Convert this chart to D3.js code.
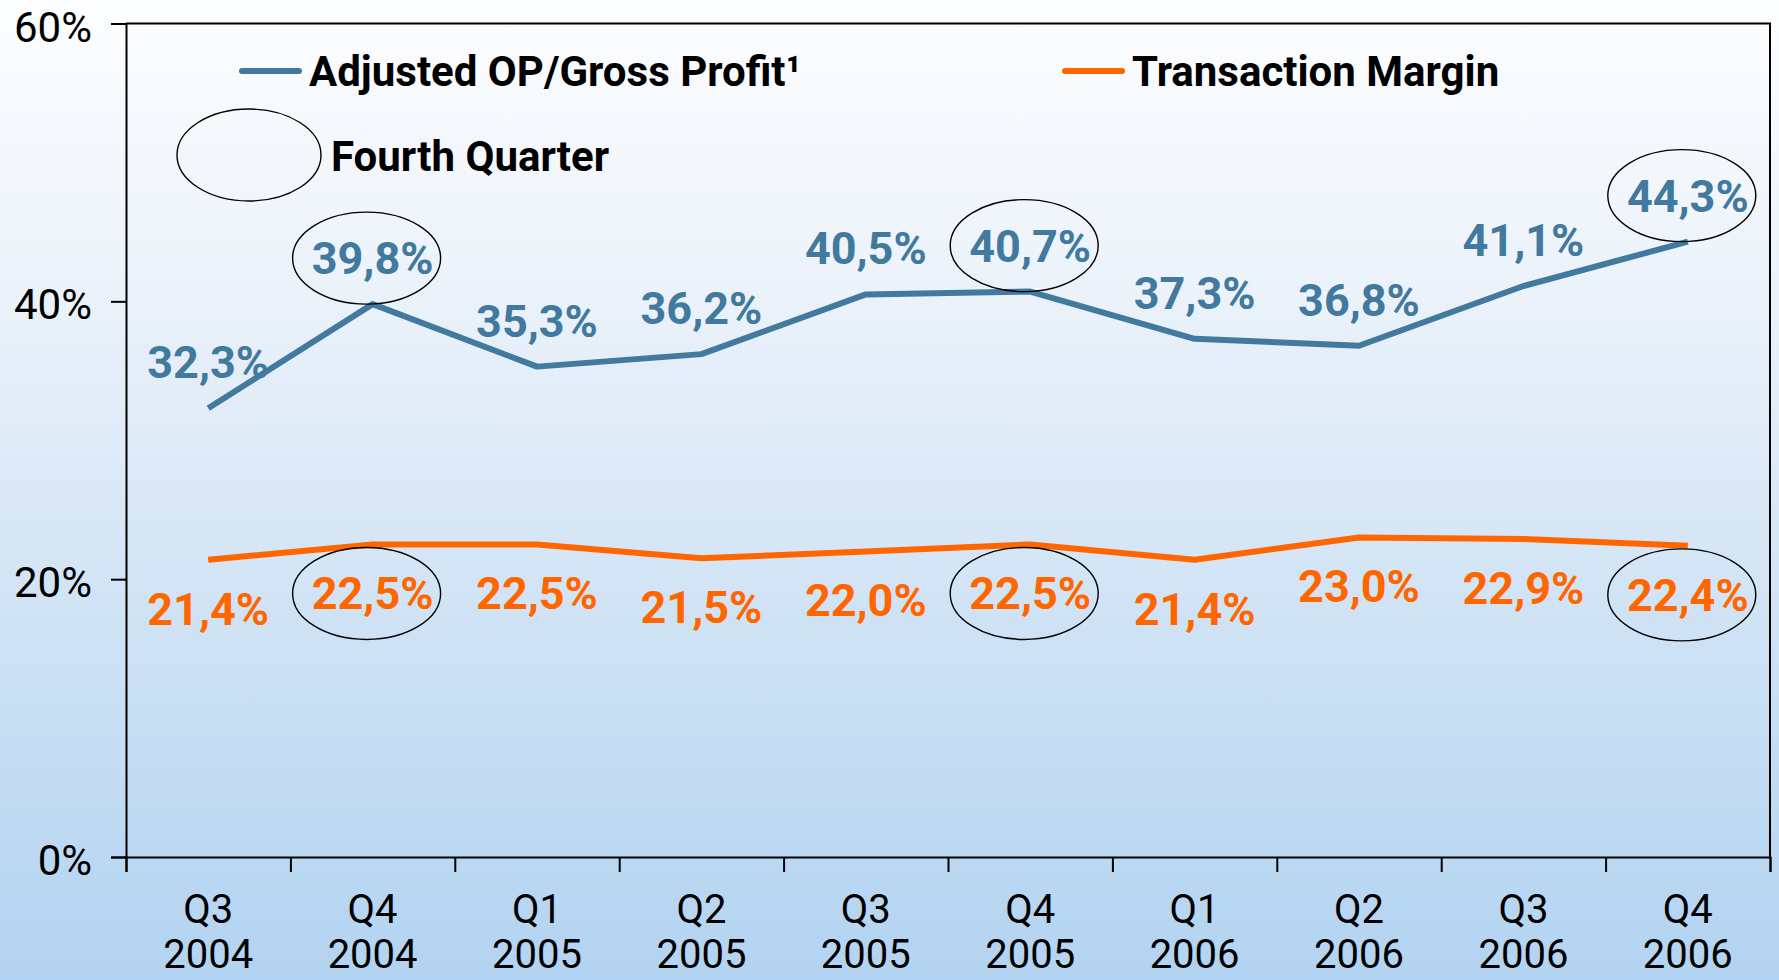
<!DOCTYPE html>
<html>
<head>
<meta charset="utf-8">
<script src="https://cdn.jsdelivr.net/npm/d3@7"></script>
<style>
  html, body { margin: 0; padding: 0; background: #ffffff; }
  svg { display: block; }
</style>
</head>
<body>
<div id="chart"></div>
<script>
var W = 1779, H = 980,
    margin = { top: 23.5, right: 9, bottom: 123, left: 126 },
    quarters = ["Q3", "Q4", "Q1", "Q2", "Q3", "Q4", "Q1", "Q2", "Q3", "Q4"],
    years = ["2004", "2004", "2005", "2005", "2005", "2005", "2006", "2006", "2006", "2006"],
    adjustedOP = [32.3, 39.8, 35.3, 36.2, 40.5, 40.7, 37.3, 36.8, 41.1, 44.3],
    transactionMargin = [21.4, 22.5, 22.5, 21.5, 22.0, 22.5, 21.4, 23.0, 22.9, 22.4],
    yTicks = [0, 20, 40, 60],
    seriesNames = ["Adjusted OP/Gross Profit\u00b9", "Transaction Margin"],
    highlightLabel = "Fourth Quarter",
    blue = "#42799e",
    orange = "#ff6600";

var locale = d3.formatLocale({ decimal: ",", thousands: ".", grouping: [3], currency: ["", ""] }),
    fmt = locale.format(".1f");

var svg = d3.select("#chart").append("svg")
    .attr("width", W)
    .attr("height", H);

// background gradient
var defs = svg.append("defs");
var grad = defs.append("linearGradient")
    .attr("id", "bg")
    .attr("x1", 0).attr("y1", 0).attr("x2", 0).attr("y2", 1);
grad.append("stop").attr("offset", "0%").attr("stop-color", "#fdfeff");
grad.append("stop").attr("offset", "30%").attr("stop-color", "#ebf2fa");
grad.append("stop").attr("offset", "60%").attr("stop-color", "#d2e4f5");
grad.append("stop").attr("offset", "100%").attr("stop-color", "#b2d3f1");

svg.append("rect")
    .attr("width", W)
    .attr("height", H)
    .attr("fill", "url(#bg)");

var x0 = margin.left, x1 = W - margin.right,
    yBottom = H - margin.bottom;

var x = d3.scaleBand()
    .domain(d3.range(quarters.length))
    .range([x0, x1]);

var xEdge = d3.scaleLinear()
    .domain([0, quarters.length])
    .range([x0, x1]);

var y = d3.scaleLinear()
    .domain([0, 60])
    .range([yBottom, margin.top]);

function cx(i) { return x(i) + x.bandwidth() / 2; }

// frame (top + right)
svg.append("path")
    .attr("d", "M" + x0 + "," + margin.top + "H" + x1 + "V" + yBottom)
    .attr("fill", "none")
    .attr("stroke", "#000")
    .attr("stroke-width", 2);

// y axis
var yAxis = svg.append("g")
    .attr("transform", "translate(" + x0 + ",0)")
    .call(d3.axisLeft(y).tickValues(yTicks).tickSize(15).tickPadding(19)
        .tickFormat(function(d) { return d + "%"; }));
yAxis.select(".domain").attr("stroke", "#000").attr("stroke-width", 2);
yAxis.selectAll(".tick line").attr("stroke", "#000").attr("stroke-width", 2);
yAxis.selectAll(".tick text")
    .attr("fill", "#000")
    .attr("dy", "0.42em")
    .style("font-family", "Roboto, sans-serif")
    .style("font-size", "42px");

// x axis: ticks at band edges
var xAxis = svg.append("g")
    .attr("transform", "translate(0," + yBottom + ")")
    .call(d3.axisBottom(xEdge).tickValues(d3.range(quarters.length + 1)).tickSize(15)
        .tickFormat(""));
xAxis.select(".domain").attr("stroke", "#000").attr("stroke-width", 2);
xAxis.selectAll(".tick line").attr("stroke", "#000").attr("stroke-width", 2);

var catLabels = svg.selectAll(".catLabel")
    .data(quarters)
    .enter().append("g")
    .attr("class", "catLabel")
    .style("font-family", "Roboto, sans-serif")
    .style("font-size", "40px")
    .attr("fill", "#000");
catLabels.append("text")
    .attr("x", function(d, i) { return cx(i); })
    .attr("y", 923)
    .attr("text-anchor", "middle")
    .text(function(d) { return d; });
catLabels.append("text")
    .attr("x", function(d, i) { return cx(i); })
    .attr("y", 968)
    .attr("text-anchor", "middle")
    .text(function(d, i) { return years[i]; });

// lines
var line = d3.line()
    .x(function(d, i) { return cx(i); })
    .y(function(d) { return y(d); });

svg.append("path")
    .datum(adjustedOP)
    .attr("d", line)
    .attr("fill", "none")
    .attr("stroke", blue)
    .attr("stroke-width", 6)
    .attr("stroke-linejoin", "round");

svg.append("path")
    .datum(transactionMargin)
    .attr("d", line)
    .attr("fill", "none")
    .attr("stroke", orange)
    .attr("stroke-width", 6)
    .attr("stroke-linejoin", "round");

// value labels
var labelFont = "Roboto, sans-serif";

function valueLabels(data, color, offset) {
    svg.append("g").selectAll("text")
        .data(data)
        .enter().append("text")
        .attr("x", function(d, i) { return cx(i); })
        .attr("y", function(d) { return y(d) + offset + 16; })
        .attr("text-anchor", "middle")
        .attr("fill", color)
        .style("font-family", labelFont)
        .style("font-weight", "bold")
        .style("font-size", "45px")
        .text(function(d) { return fmt(d) + "%"; });
}
valueLabels(adjustedOP, blue, -46);
valueLabels(transactionMargin, orange, 49);

// fourth-quarter ellipses
var q4 = d3.range(quarters.length).filter(function(i) { return quarters[i] === "Q4"; });

function rings(data, offset) {
    svg.append("g").selectAll("ellipse")
        .data(q4)
        .enter().append("ellipse")
        .attr("cx", function(i) { return cx(i) - 6; })
        .attr("cy", function(i) { return y(data[i]) + offset; })
        .attr("rx", 74)
        .attr("ry", 46)
        .attr("fill", "none")
        .attr("stroke", "#000")
        .attr("stroke-width", 1.4);
}
rings(adjustedOP, -46);
rings(transactionMargin, 49);

// legend
var legend = svg.append("g")
    .style("font-family", labelFont)
    .style("font-weight", "bold")
    .style("font-size", "42px");

var legendItems = [
    { name: seriesNames[0], color: blue, x: 242 },
    { name: seriesNames[1], color: orange, x: 1065 }
];

var li = legend.selectAll(".legendItem")
    .data(legendItems)
    .enter().append("g")
    .attr("class", "legendItem")
    .attr("transform", function(d) { return "translate(" + d.x + ",71)"; });

li.append("line")
    .attr("x1", 0).attr("x2", 57)
    .attr("stroke", function(d) { return d.color; })
    .attr("stroke-width", 6)
    .attr("stroke-linecap", "round");

li.append("text")
    .attr("x", 67)
    .attr("y", 15)
    .attr("fill", "#000")
    .text(function(d) { return d.name; });

legend.append("ellipse")
    .attr("cx", 249).attr("cy", 155)
    .attr("rx", 72).attr("ry", 46)
    .attr("fill", "none")
    .attr("stroke", "#000")
    .attr("stroke-width", 1.4);

legend.append("text")
    .attr("x", 331)
    .attr("y", 171)
    .attr("fill", "#000")
    .text(highlightLabel);
</script>
</body>
</html>
